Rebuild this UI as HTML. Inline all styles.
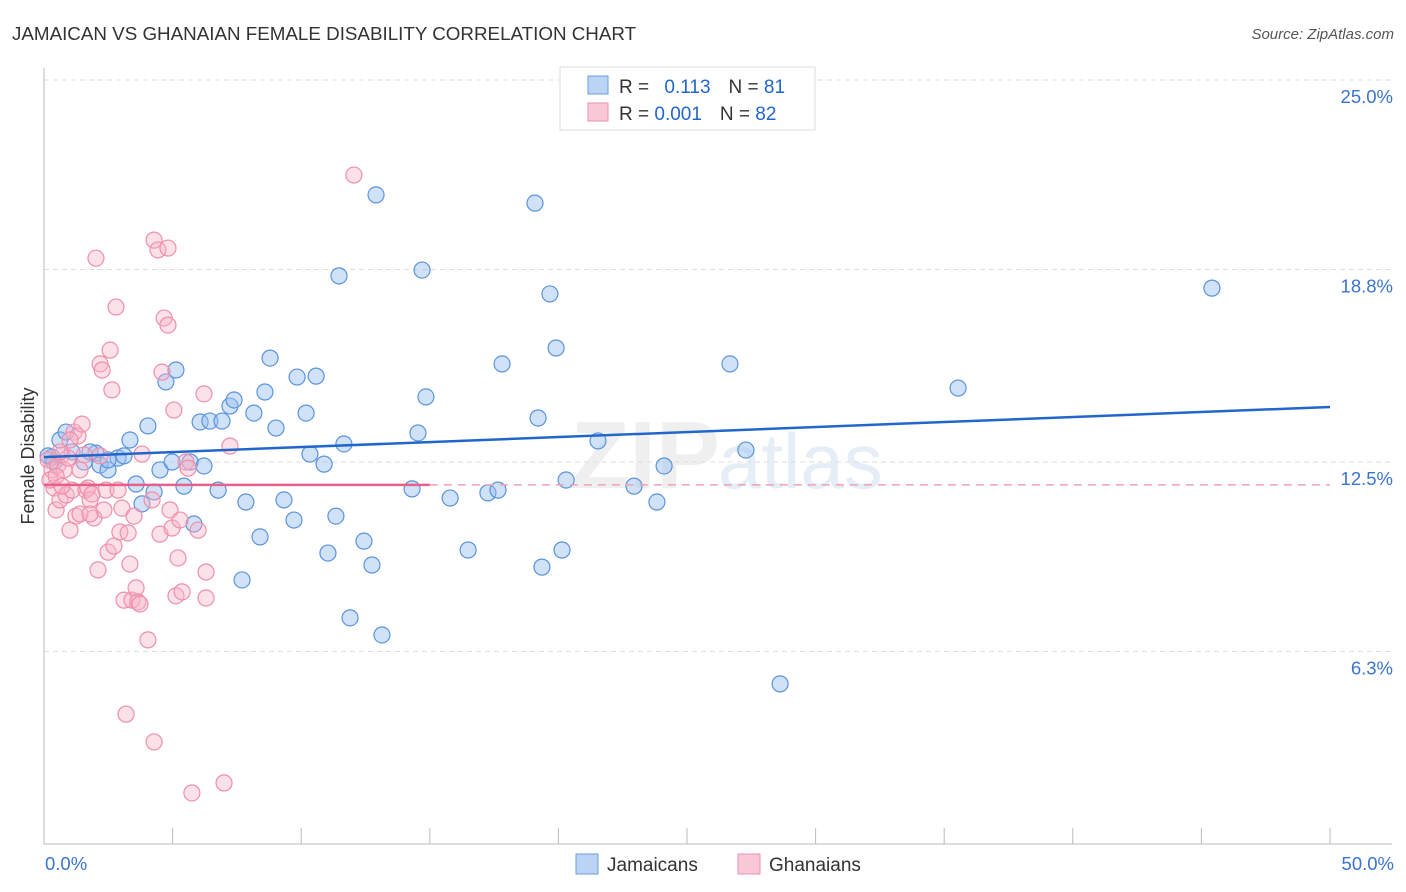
<!DOCTYPE html>
<html><head><meta charset="utf-8"><style>
body{margin:0;background:#fff;font-family:"Liberation Sans",sans-serif;}
</style></head><body>
<svg id="c" width="1406" height="892" xmlns="http://www.w3.org/2000/svg" style="display:block">
<text x="12" y="40" font-size="18.8" fill="#333">JAMAICAN VS GHANAIAN FEMALE DISABILITY CORRELATION CHART</text>
<text x="1394" y="39" font-size="15" fill="#555" text-anchor="end" font-style="italic">Source: ZipAtlas.com</text>
<g id="grid"></g>
<text x="720" y="488" font-size="96" font-weight="bold" fill="#e0e0e0" opacity="0.5" text-anchor="end">ZIP</text>
<text x="718" y="488" font-size="78" fill="#d0dff2" opacity="0.55">atlas</text>
<g id="pts"></g>
<g id="lines"></g>
<text transform="translate(34,456) rotate(-90)" font-size="18" fill="#333" text-anchor="middle">Female Disability</text>
<g>
<rect x="560" y="67" width="255" height="63" fill="#fff" stroke="#ddd"/>
<rect x="588" y="76" width="20" height="18" fill="#bcd4f4" stroke="#6a9ee0"/>
<rect x="588" y="103" width="20" height="18" fill="#f8c8d6" stroke="#ee90aa"/>
<text x="619" y="93" font-size="19" fill="#333">R = <tspan fill="#2266cc" dx="10">0.113</tspan><tspan dx="18" fill="#333">N = </tspan><tspan fill="#2266cc">81</tspan></text>
<text x="619" y="120" font-size="19" fill="#333">R = <tspan fill="#2266cc">0.001</tspan><tspan dx="18" fill="#333">N = </tspan><tspan fill="#2266cc">82</tspan></text>
</g>
<g>
<rect x="576" y="854" width="22" height="20" fill="#bcd4f4" stroke="#6a9ee0"/>
<text x="607" y="871" font-size="19" fill="#333">Jamaicans</text>
<rect x="738" y="854" width="22" height="20" fill="#f8c8d6" stroke="#ee90aa"/>
<text x="769" y="871" font-size="19" fill="#333">Ghanaians</text>
</g>
</svg>
<script>
const yTicks=[25.0,18.8,12.5,6.3];
const yTickLabels=["25.0%","18.8%","12.5%","6.3%"];
const xTicks=[0,5,10,15,20,25,30,35,40,45,50];
const xLabels=["0.0%","50.0%"];
const blueX=[0.31,0.62,0.86,1.09,1.56,2.02,2.18,2.49,2.88,3.11,3.34,3.58,3.81,4.04,4.28,4.51,4.74,4.98,5.13,5.44,5.68,5.83,6.07,6.22,6.45,6.77,6.92,7.23,7.39,7.70,7.85,8.16,8.40,8.59,8.79,9.02,9.33,9.72,9.84,10.19,10.34,10.58,10.89,11.04,11.35,11.47,11.66,11.90,12.44,12.75,12.91,13.14,14.31,14.54,14.70,14.85,15.79,16.49,17.26,17.65,17.81,19.09,19.21,19.36,19.67,19.91,20.14,20.30,21.54,22.94,23.83,24.11,26.67,27.29,28.62,35.54,45.41,0.39,0.16,1.79,2.49];
const blueY=[12.66,13.22,13.48,12.83,12.50,12.79,12.40,12.24,12.63,12.70,13.22,11.78,11.13,13.68,11.52,12.24,15.12,12.50,15.51,11.71,12.50,10.47,13.81,12.37,13.84,11.58,13.84,14.33,14.53,8.64,11.19,14.10,10.05,14.79,15.90,13.61,11.26,10.60,15.28,14.10,12.76,15.31,12.43,9.52,10.73,18.59,13.09,7.40,9.91,9.13,21.24,6.84,11.62,13.45,18.78,14.63,11.32,9.62,11.49,11.58,15.71,20.97,13.94,9.06,18.00,16.23,9.62,11.91,13.19,11.71,11.19,12.37,15.71,12.89,5.24,14.92,18.19,12.50,12.70,12.83,12.57];
const pinkX=[0.16,0.31,0.39,0.47,0.54,0.62,0.70,0.78,0.86,0.93,1.01,1.09,1.17,1.24,1.32,1.40,1.48,1.56,1.63,1.71,1.79,1.87,1.94,2.02,2.10,2.18,2.26,2.33,2.41,2.49,2.57,2.64,2.72,2.80,2.88,2.95,3.03,3.11,3.19,3.27,3.34,3.42,3.50,3.58,3.65,3.73,3.81,4.04,4.20,4.28,4.28,4.43,4.51,4.90,4.59,4.67,4.82,4.82,4.98,5.05,5.13,5.21,5.29,5.37,5.52,5.60,5.75,5.99,6.22,6.30,6.30,7.00,7.23,12.05,0.62,0.23,0.47,1.01,1.40,0.70,1.79,2.18];
const pinkY=[12.57,12.24,11.65,10.93,12.40,11.26,12.73,12.24,11.42,12.63,10.27,11.58,13.48,10.73,13.35,10.80,13.74,12.73,11.58,11.65,11.26,11.45,10.67,19.17,8.97,15.71,15.51,10.93,11.58,9.55,16.16,14.86,9.75,17.57,11.58,10.21,10.99,7.98,4.25,10.18,9.16,7.98,10.73,8.38,7.92,7.85,12.76,6.68,11.26,3.34,19.76,19.44,10.14,10.93,15.44,17.21,16.98,19.50,10.34,14.20,8.12,9.36,10.60,8.25,12.50,12.30,1.67,10.27,14.73,8.90,8.05,2.00,13.02,21.89,12.83,11.91,12.04,13.22,12.24,11.71,10.80,12.70];
const blueTrendX=[0,50], blueTrendY=[12.66,14.30];
const pinkTrendX=[0,15,50], pinkTrendY=[11.75,11.75,11.75];

const NS="http://www.w3.org/2000/svg";
const X0=44,X1=1330,Y0=844,YTOP=80;
const sx=v=>X0+(v/50)*(X1-X0);
const sy=v=>Y0-(v/25)*(Y0-YTOP);
function mk(tag,attrs,parent){const e=document.createElementNS(NS,tag);for(const k in attrs)e.setAttribute(k,attrs[k]);parent.appendChild(e);return e;}
const grid=document.getElementById('grid');
yTicks.forEach((t,i)=>{
  const l=mk('line',{x1:X0,x2:1392,y1:sy(t),y2:sy(t),stroke:'#ddd','stroke-dasharray':'5,4'},grid);
  
  
  const tx=mk('text',{x:1393,y:sy(t)+23,'font-size':18.5,fill:'#3a74cc','text-anchor':'end'},grid);
  tx.textContent=yTickLabels[i];
  
  
});
const ax=mk('line',{x1:X0,x2:X0,y1:68,y2:Y0,stroke:'#bbb'},grid);


const bx=mk('line',{x1:X0,x2:1392,y1:Y0,y2:Y0,stroke:'#bbb'},grid);


xTicks.forEach(t=>{
  const l=mk('line',{x1:sx(t),x2:sx(t),y1:Y0,y2:Y0-16,stroke:'#bbb'},grid);
  
  
});
[[0,'start',xLabels[0],45],[50,'end',xLabels[1],1394]].forEach(a=>{
  const t=mk('text',{x:a[3],y:870,'font-size':18.5,fill:'#3a74cc','text-anchor':a[1]},grid);
  t.textContent=a[2];
  
  
});
const pts=document.getElementById('pts');
blueX.forEach((v,i)=>{
  const c=mk('circle',{cx:sx(v),cy:sy(blueY[i]),r:8,fill:'rgba(150,190,240,0.45)',stroke:'#5b93dc','stroke-width':1.2},pts);
  
  
});
pinkX.forEach((v,i)=>{
  const c=mk('circle',{cx:sx(v),cy:sy(pinkY[i]),r:8,fill:'rgba(248,180,200,0.4)',stroke:'#ee8fab','stroke-width':1.2},pts);
  
  
});
const lines=document.getElementById('lines');
const bl=mk('line',{x1:sx(blueTrendX[0]),y1:sy(blueTrendY[0]),x2:sx(blueTrendX[1]),y2:sy(blueTrendY[1]),stroke:'#2266cc','stroke-width':2.5},lines);


const pl=mk('line',{x1:sx(pinkTrendX[0]),y1:sy(pinkTrendY[0]),x2:sx(pinkTrendX[1]),y2:sy(pinkTrendY[1]),stroke:'#e8608a','stroke-width':2.5},lines);


const pd=mk('line',{x1:sx(pinkTrendX[1]),y1:sy(pinkTrendY[1]),x2:sx(pinkTrendX[2]),y2:sy(pinkTrendY[2]),stroke:'#f0a0b8','stroke-width':1.5,'stroke-dasharray':'8,6'},lines);


</script>
</body></html>
